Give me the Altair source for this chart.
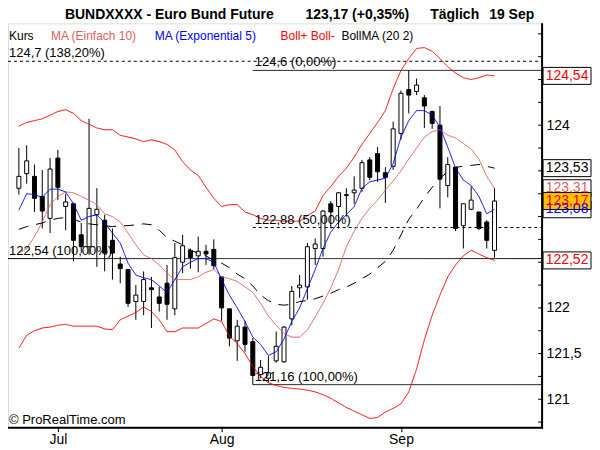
import altair as alt
import pandas as pd

# daily candles, 24 Jun .. 19 Sep (one row per trading day)
opens = [123.31, 123.47, 123.44, 123.22, 122.98, 123.64, 123.11, 123.14, 122.80, 122.67,
         123.02, 122.96, 122.74, 122.48, 122.42, 122.07, 122.07, 122.22, 122.12, 122.27,
         121.99, 122.50, 122.63, 122.57, 122.62, 122.64, 122.34, 121.99, 121.64, 121.79,
         121.63, 121.27, 121.23, 121.42, 121.41, 121.88, 122.22, 122.23, 122.65, 122.65,
         123.14, 123.11, 123.23, 123.26, 123.31, 123.62, 123.69, 123.48, 123.55, 123.91,
         124.39, 124.37, 124.30, 124.15, 124.00, 123.34, 123.54, 122.90, 123.08, 123.05,
         122.94, 122.63]
highs = [123.75, 123.78, 123.57, 123.51, 123.64, 123.73, 123.25, 123.15, 122.93, 124.07,
         123.31, 123.02, 122.87, 122.56, 122.42, 122.25, 122.40, 122.34, 122.23, 122.47,
         122.71, 122.80, 122.65, 122.78, 122.69, 122.75, 122.34, 121.99, 121.87, 121.86,
         121.67, 121.43, 121.47, 121.74, 121.80, 122.24, 122.36, 122.71, 122.76, 123.07,
         123.17, 123.27, 123.31, 123.44, 123.62, 123.65, 123.76, 123.54, 124.04, 124.38,
         124.60, 124.51, 124.33, 124.16, 124.21, 123.65, 123.54, 123.14, 123.33, 123.05,
         122.96, 123.31]
lows = [123.24, 123.36, 123.05, 122.87, 122.82, 123.18, 122.85, 122.51, 122.60, 122.58,
        122.45, 122.40, 122.31, 122.27, 122.01, 121.87, 121.92, 121.78, 121.96, 121.87,
        121.92, 122.38, 122.43, 122.39, 122.47, 122.42, 121.86, 121.58, 121.42, 121.52,
        121.16, 121.23, 121.18, 121.40, 121.40, 121.81, 122.11, 122.09, 122.47, 122.56,
        122.87, 122.87, 123.00, 123.14, 123.27, 123.40, 123.38, 123.15, 123.51, 123.84,
        124.13, 124.33, 123.97, 123.96, 123.09, 123.21, 122.84, 122.65, 123.07, 122.85,
        122.65, 122.55]
closes = [123.44, 123.61, 123.20, 123.06, 123.52, 123.32, 123.16, 122.74, 122.67, 123.09,
          123.08, 122.60, 122.60, 122.43, 122.05, 122.14, 122.31, 122.20, 122.05, 122.04,
          122.55, 122.68, 122.55, 122.62, 122.59, 122.46, 122.00, 121.67, 121.80, 121.60,
          121.26, 121.35, 121.29, 121.58, 121.79, 122.18, 122.25, 122.67, 122.70, 123.06,
          123.05, 123.26, 123.24, 123.29, 123.59, 123.43, 123.49, 123.43, 123.96, 124.35,
          124.33, 124.44, 124.21, 124.02, 123.41, 123.57, 122.87, 123.14, 123.18, 122.87,
          122.74, 123.17]

# indicators as drawn on the chart
ma10 = [122.60, 122.65, 122.78, 122.94, 123.13, 123.22, 123.27, 123.26, 123.22, 123.18,
        123.13, 123.03, 123.00, 122.94, 122.82, 122.69, 122.58, 122.54, 122.47, 122.38,
        122.31, 122.31, 122.31, 122.34, 122.39, 122.42, 122.34, 122.32, 122.29, 122.23,
        122.17, 122.05, 121.91, 121.81, 121.72, 121.68, 121.68, 121.76, 121.90, 122.05,
        122.22, 122.42, 122.67, 122.84, 122.98, 123.09, 123.18, 123.29, 123.39, 123.50,
        123.63, 123.75, 123.87, 123.93, 123.95, 123.89, 123.86, 123.80, 123.74, 123.63,
        123.44, 123.31]
ema5 = [123.07, 123.25, 123.24, 123.21, 123.30, 123.30, 123.27, 123.14, 122.96, 123.00,
        123.02, 122.93, 122.82, 122.71, 122.49, 122.36, 122.33, 122.31, 122.24, 122.17,
        122.31, 122.45, 122.50, 122.54, 122.54, 122.50, 122.31, 122.14, 122.00, 121.85,
        121.68, 121.60, 121.48, 121.52, 121.66, 121.85, 122.00, 122.21, 122.42, 122.65,
        122.83, 122.94, 123.02, 123.11, 123.31, 123.38, 123.40, 123.42, 123.58, 123.87,
        124.05, 124.16, 124.16, 124.11, 123.98, 123.76, 123.53, 123.40, 123.34, 123.22,
        123.03, 123.08]
boll_up = [123.99, 124.03, 124.05, 124.07, 124.11, 124.15, 124.17, 124.13, 124.05, 124.01,
           123.97, 123.95, 123.95, 123.89, 123.87, 123.85, 123.82, 123.84, 123.82, 123.79,
           123.73, 123.60, 123.51, 123.45, 123.32, 123.20, 123.11, 123.13, 123.13, 123.05,
           123.02, 122.98, 122.96, 122.96, 122.95, 122.95, 122.95, 123.01, 123.06, 123.23,
           123.33, 123.44, 123.53, 123.65, 123.79, 123.91, 124.03, 124.16, 124.40, 124.60,
           124.73, 124.84, 124.85, 124.81, 124.73, 124.64, 124.57, 124.52, 124.50, 124.52,
           124.55, 124.54]
boll_lo = [121.56, 121.70, 121.75, 121.78, 121.79, 121.81, 121.82, 121.80, 121.80, 121.80,
           121.80, 121.77, 121.76, 121.87, 121.91, 121.95, 122.01, 121.96, 121.87, 121.74,
           121.74, 121.78, 121.78, 121.78, 121.83, 121.88, 121.85, 121.69, 121.61, 121.50,
           121.36, 121.25, 121.18, 121.15, 121.13, 121.12, 121.11, 121.10, 121.08, 121.05,
           121.01, 120.96, 120.91, 120.87, 120.83, 120.79, 120.80, 120.86, 120.90, 120.95,
           121.08, 121.33, 121.65, 121.92, 122.14, 122.34, 122.47, 122.57, 122.63, 122.59,
           122.55, 122.52]
boll_ma = [122.86, 122.89, 122.91, 122.93, 122.96, 122.98, 122.99, 122.97, 122.94, 122.92,
           122.91, 122.90, 122.89, 122.90, 122.90, 122.91, 122.92, 122.91, 122.85, 122.77,
           122.73, 122.69, 122.63, 122.60, 122.57, 122.52, 122.49, 122.44, 122.37, 122.32,
           122.24, 122.14, 122.08, 122.04, 122.03, 122.04, 122.07, 122.08, 122.10, 122.13,
           122.16, 122.20, 122.23, 122.27, 122.32, 122.37, 122.44, 122.51, 122.63, 122.80,
           122.97, 123.08, 123.21, 123.32, 123.42, 123.49, 123.54, 123.55, 123.56, 123.57,
           123.55, 123.53]

month_pos = [5, 26, 49]
month_names = ["Jul", "Aug", "Sep"]
price_ticks = [120.75, 121.0, 121.25, 121.5, 121.75, 122.0, 122.25, 122.5, 122.75,
               123.0, 123.25, 123.5, 123.75, 124.0, 124.25, 124.5, 124.75, 125.0]
price_labels = [121, 121.5, 122, 124]

fib_levels = [124.7, 124.6, 122.88, 122.54, 121.16]
fib_texts = ["124,7 (138,20%)", "124,6 (0,00%)", "122,88 (50,00%)",
             "122,54 (100,00%)", "121,16 (100,00%)"]
fib_start = [None, 30, 30, None, 30]
fib_dashed = [True, False, True, False, False]

FONT = "Liberation Sans"
W, H = 535, 405
X_DOM = [-0.754, 66.457]
Y_DOM = [120.689, 125.115]

COLORS = {"bollup": "#FF0000", "bolllo": "#FF0000", "ma10": "#E06060",
          "ema5": "#0000FF", "bollma": "#000000", "close": "#000000"}
DASHES = {"bollup": [1, 0], "bolllo": [1, 0], "ma10": [1, 0], "ema5": [1, 0], "bollma": [10, 8]}


def de(v):
    return f"{v:.2f}".replace(".", ",")


x_axis = alt.Axis(values=month_pos, labelExpr=f"{month_names}[indexof({month_pos}, datum.value)]",
                  tickSize=4, tickColor="black", labelFontSize=14, labelColor="black",
                  labelFont=FONT, labelPadding=1, domain=False, grid=False, title=None)
y_axis = alt.Axis(orient="right", values=price_labels, ticks=False, domain=False, grid=False,
                  labelExpr="replace(format(datum.value, '.1~f'), '.', ',')",
                  labelFontSize=14, labelColor="black", labelFont=FONT, labelPadding=4, title=None)
xs = alt.Scale(domain=X_DOM, nice=False, zero=False)
ys = alt.Scale(domain=Y_DOM, nice=False, zero=False)


def X(field):
    return alt.X(field, scale=xs, axis=x_axis, title=None)


def Y(field):
    return alt.Y(field, scale=ys, axis=y_axis, title=None)


def text_at(txt, x, y, color="black", size=12, bold=False):
    return alt.Chart(pd.DataFrame({"t": [txt]})).mark_text(
        align="left", baseline="middle", font=FONT, fontSize=size, color=color,
        fontWeight="bold" if bold else "normal",
    ).encode(x=alt.value(x), y=alt.value(y), text="t:N")


idx = list(range(len(closes)))
candles = pd.DataFrame({"idx": idx, "open": opens, "high": highs, "low": lows, "close": closes})
candles["fill"] = ["white" if c >= o else "black" for o, c in zip(opens, closes)]

series = {"bollup": boll_up, "bolllo": boll_lo, "ma10": ma10, "ema5": ema5, "bollma": boll_ma}
lines = pd.DataFrame([{"idx": i, "price": v, "series": k}
                      for k, vals in series.items() for i, v in enumerate(vals)])

fib = pd.DataFrame({"level": fib_levels, "label": fib_texts, "start": fib_start, "dashed": fib_dashed})
fib_full = fib[fib.start.isna()]
fib_part = fib[fib.start.notna()]

# last values shown in the boxes on the right; close drawn last so it sits on top
box_keys = ["bollup", "bollma", "ma10", "ema5", "bolllo", "close"]
box_vals = [boll_up[-1], boll_ma[-1], ma10[-1], ema5[-1], boll_lo[-1], closes[-1]]
boxes = pd.DataFrame({"key": box_keys, "value": box_vals, "label": [de(v) for v in box_vals],
                      "bg": ["white"] * 5 + ["#FFC000"]})

layers = []

for df, dashed in [(fib_full[fib_full.dashed], True), (fib_full[~fib_full.dashed], False)]:
    layers.append(alt.Chart(df).mark_rule(color="black", strokeWidth=1,
                                          strokeDash=[3, 3] if dashed else [1, 0])
                  .encode(y=Y("level:Q"), x=alt.value(0), x2=alt.value(W)))
for df, dashed in [(fib_part[fib_part.dashed], True), (fib_part[~fib_part.dashed], False)]:
    layers.append(alt.Chart(df).mark_rule(color="black", strokeWidth=1,
                                          strokeDash=[3, 3] if dashed else [1, 0])
                  .encode(y=Y("level:Q"), x=X("start:Q"), x2=alt.value(W)))

wicks = alt.Chart(candles).mark_rule(color="black", strokeWidth=1).encode(
    x=X("idx:Q"), y=Y("low:Q"), y2="high:Q")
bodies = alt.Chart(candles).mark_bar(size=4, stroke="black", strokeWidth=1).encode(
    x=X("idx:Q"), y=Y("open:Q"), y2="close:Q", fill=alt.Fill("fill:N", scale=None))
layers += [wicks, bodies]

ind = alt.Chart(lines).mark_line(strokeWidth=1, interpolate="linear").encode(
    x=X("idx:Q"), y=Y("price:Q"),
    color=alt.Color("series:N", scale=alt.Scale(domain=list(DASHES), range=[COLORS[k] for k in DASHES]),
                    legend=None),
    strokeDash=alt.StrokeDash("series:N", scale=alt.Scale(domain=list(DASHES), range=list(DASHES.values())),
                              legend=None),
    detail="series:N",
)
layers.append(ind)

layers.append(alt.Chart(fib_full).mark_text(align="left", baseline="bottom", dy=-1, font=FONT,
                                            fontSize=13, color="black")
              .encode(x=alt.value(1), y=Y("level:Q"), text="label:N"))
layers.append(alt.Chart(fib_part).mark_text(align="left", baseline="bottom", dx=2, dy=-1, font=FONT,
                                            fontSize=13, color="black")
              .encode(x=X("start:Q"), y=Y("level:Q"), text="label:N"))

# inner ticks of the price scale and the heavier right / bottom frame
layers.append(alt.Chart(pd.DataFrame({"p": price_ticks})).mark_rule(color="black")
              .encode(y=Y("p:Q"), x=alt.value(W - 4), x2=alt.value(W)))
edge = pd.DataFrame({"a": [0]})
layers.append(alt.Chart(edge).mark_rule(color="black", strokeWidth=2)
              .encode(x=alt.value(W), y=alt.value(0), y2=alt.value(H + 1)))
layers.append(alt.Chart(edge).mark_rule(color="black", strokeWidth=2)
              .encode(x=alt.value(0), x2=alt.value(W + 1), y=alt.value(H)))

layers.append(alt.Chart(boxes).mark_rect(width=48, height=17, stroke="black", strokeWidth=1)
              .encode(x=alt.value(W + 25), y=Y("value:Q"), fill=alt.Fill("bg:N", scale=None)))
layers.append(alt.Chart(boxes).mark_text(align="center", baseline="middle", font=FONT, fontSize=14)
              .encode(x=alt.value(W + 25), y=Y("value:Q"), text="label:N",
                      color=alt.Color("key:N", scale=alt.Scale(domain=box_keys,
                                                               range=[COLORS[k] for k in box_keys]),
                                      legend=None)))

chg = (closes[-1] / closes[-2] - 1) * 100
layers += [
    text_at("BUNDXXXX - Euro Bund Future", 57, -8, size=14, bold=True),
    text_at(f"{de(closes[-1])} (+{de(chg)}%)", 298, -8, size=14, bold=True),
    text_at("Täglich", 423, -8, size=14, bold=True),
    text_at("19 Sep", 482, -8, size=14, bold=True),
    text_at("Kurs", 1, 13),
    text_at("MA (Einfach 10)", 43, 13, color=COLORS["ma10"]),
    text_at("MA (Exponential 5)", 147, 13, color=COLORS["ema5"]),
    text_at("Boll+ Boll-", 273, 13, color=COLORS["bollup"]),
    text_at("BollMA (20 2)", 334, 13),
    text_at("© ProRealTime.com", 1, 397, size=13),
]

chart = alt.layer(*layers).properties(
    width=W, height=H,
    autosize=alt.AutoSizeParams(type="none"),
    padding={"left": 0, "top": 15, "right": 50, "bottom": 27},
).configure_view(stroke="black", strokeWidth=1).configure(background="white")

chart.save("out.html", embed_options={"renderer": "svg", "actions": False})
